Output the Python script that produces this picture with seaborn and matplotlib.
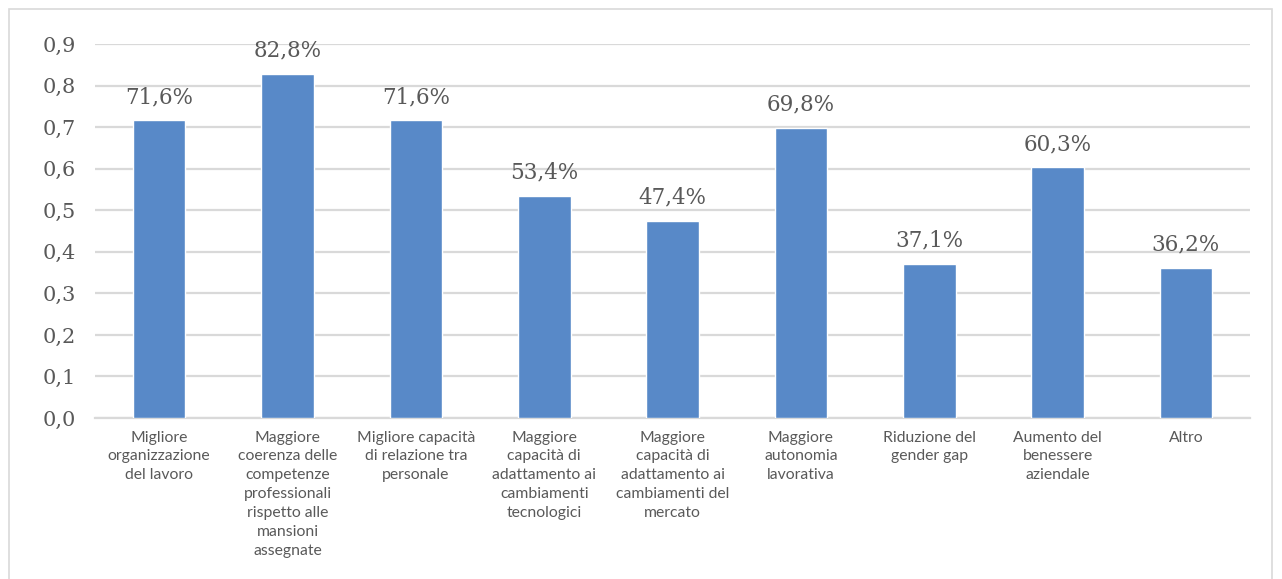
import numpy as np
import pandas as pd
import matplotlib
matplotlib.use("Agg")
import matplotlib.pyplot as plt
import seaborn as sns

categories = [
    "Migliore\norganizzazione\ndel lavoro",
    "Maggiore\ncoerenza delle\ncompetenze\nprofessionali\nrispetto alle\nmansioni\nassegnate",
    "Migliore capacità\ndi relazione tra\npersonale",
    "Maggiore\ncapacità di\nadattamento ai\ncambiamenti\ntecnologici",
    "Maggiore\ncapacità di\nadattamento ai\ncambiamenti del\nmercato",
    "Maggiore\nautonomia\nlavorativa",
    "Riduzione del\ngender gap",
    "Aumento del\nbenessere\naziendale",
    "Altro",
]
values = [0.716, 0.828, 0.716, 0.534, 0.474, 0.698, 0.371, 0.603, 0.362]
y_ticks = [0.0, 0.1, 0.2, 0.3, 0.4, 0.5, 0.6, 0.7, 0.8, 0.9]

text_col = "#595959"
grid_col = "#D9D9D9"
bar_col = "#5889C8"

df = pd.DataFrame({"cat": categories, "val": values})

sns.set_style("white")
fig = plt.figure(figsize=(12.82, 5.79), dpi=100)
ax = fig.add_axes([0.0741, 0.278, 0.901, 0.646])

sns.barplot(data=df, x="cat", y="val", color=bar_col, width=0.41,
            saturation=1, ax=ax, zorder=3)

ax.set_ylim(0, 0.9)
ax.set_yticks(y_ticks)
ax.set_yticklabels([f"{t:.1f}".replace(".", ",") for t in y_ticks],
                   fontsize=15, color=text_col, family="DejaVu Serif")
ax.tick_params(axis="y", length=0, pad=14)
ax.tick_params(axis="x", length=0, pad=9)
ax.set_xticks(range(len(categories)))
ax.set_xticklabels(categories, fontsize=11.3, color=text_col,
                   family="Lato", linespacing=1.45, va="top")
ax.set_xlabel("")
ax.set_ylabel("")
ax.set_xlim(-0.5, len(categories) - 0.5)

ax.grid(axis="y", color=grid_col, lw=1.6, zorder=0)
for s in ["top", "right", "left"]:
    ax.spines[s].set_visible(False)
ax.spines["bottom"].set_color(grid_col)
ax.spines["bottom"].set_linewidth(1.6)

for i, v in enumerate(values):
    ax.text(i, v + 0.03, f"{v * 100:.1f}%".replace(".", ","),
            ha="center", va="bottom", fontsize=15.5, color=text_col,
            family="DejaVu Serif")

# outer chart frame
frame = plt.Rectangle((9 / 1282, -0.1), 1263 / 1282, 1.1 - 9 / 579,
                      transform=fig.transFigure, fill=False,
                      edgecolor="#D9D9D9", lw=1.2)
fig.patches.append(frame)

fig.savefig("out.png", dpi=100)
